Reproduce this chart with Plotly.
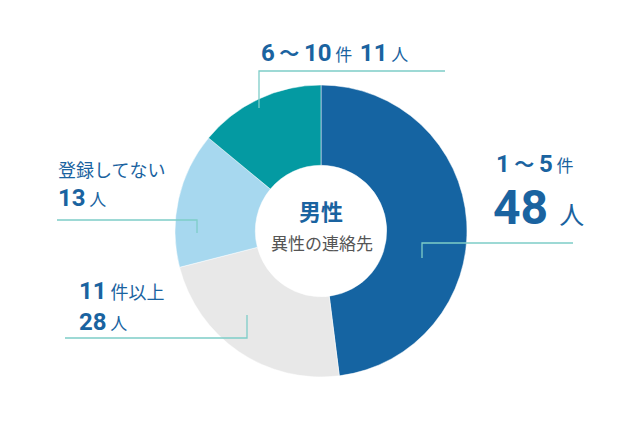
import plotly.graph_objects as go

W, H = 636, 426

categories = ["1～5件", "11件以上", "登録してない", "6～10件"]
counts = [48, 28, 13, 11]             # numbers printed in the labels
slice_sizes = [48, 23, 15, 14]        # slice shares as drawn in the picture
colors = ["#1564a2", "#e8e8e8", "#a7d8ef", "#049aa2"]

title = "男性"
subtitle = "異性の連絡先"

blue = "#1a63a0"
line_col = "#7ecdc8"
font = "Noto Sans CJK JP"
OFF = 8  # page margin of the browser
SP = "&nbsp;"


def px(x):
    return (x - OFF) / W


def py(y):
    return 1 - (y - OFF) / H


def num(s, size):
    return "<span style='font-family:Roboto;font-size:%dpx;font-weight:bold'>%s</span>" % (size, s)


def jp(s, size, bold=False):
    w = ";font-weight:bold" if bold else ""
    return "<span style='font-size:%dpx%s'>%s</span>" % (size, w, s)


fig = go.Figure(go.Pie(
    labels=categories,
    values=slice_sizes,
    customdata=counts,
    hole=0.45,
    sort=False,
    direction="clockwise",
    rotation=0,
    marker=dict(colors=colors, line=dict(color="white", width=0.5)),
    textinfo="none",
    hovertemplate="%{label}: %{customdata}人<extra></extra>",
    domain=dict(x=[px(175), px(467)], y=[py(377), py(85)]),
    showlegend=False,
))

anns = [
    # top label
    (259, 52, num(6, 24) + jp(" ～ ", 20, True) + num(10, 24) + jp(SP + "件" + SP + SP, 17)
     + num(counts[3], 24) + jp(SP + "人", 17)),
    # right label
    (494, 164, num(1, 24) + jp(" ～ ", 20, True) + num(5, 24) + jp(SP + "件", 17)),
    (491, 207, num(counts[0], 48) + jp(SP + SP + "人", 25)),
    # left upper
    (56, 169, jp("登録してない", 18)),
    (56, 198, num(counts[2], 24) + jp(SP + "人", 17)),
    # left lower
    (77, 291, num(11, 24) + jp(SP + "件以上", 18)),
    (77, 322, num(counts[1], 24) + jp(SP + "人", 17)),
]
for x, y, txt in anns:
    fig.add_annotation(x=px(x), y=py(y), xref="paper", yref="paper", text=txt,
                       showarrow=False, xanchor="left", yanchor="middle",
                       font=dict(family=font, color=blue))

fig.add_annotation(x=px(321), y=py(210), xref="paper", yref="paper",
                   text="<b>%s</b>" % title, showarrow=False,
                   font=dict(family=font, size=22, color=blue))
fig.add_annotation(x=px(322), y=py(242), xref="paper", yref="paper",
                   text=subtitle, showarrow=False,
                   font=dict(family=font, size=17, color="#555555"))

# leader lines
paths = [
    [(259, 108), (259, 71), (445, 71)],
    [(57, 220), (197, 220), (197, 233)],
    [(65, 338), (247, 338), (247, 315)],
    [(573, 243), (422, 243), (422, 258)],
]
for pts in paths:
    d = "M " + " L ".join("%f,%f" % (px(a), py(b)) for a, b in pts)
    fig.add_shape(type="path", path=d, xref="paper", yref="paper",
                  line=dict(color=line_col, width=1.3))

fig.update_layout(
    width=W, height=H,
    margin=dict(l=0, r=0, t=0, b=0),
    paper_bgcolor="white",
    plot_bgcolor="white",
    font=dict(family=font),
)

fig.write_html("out.html")
